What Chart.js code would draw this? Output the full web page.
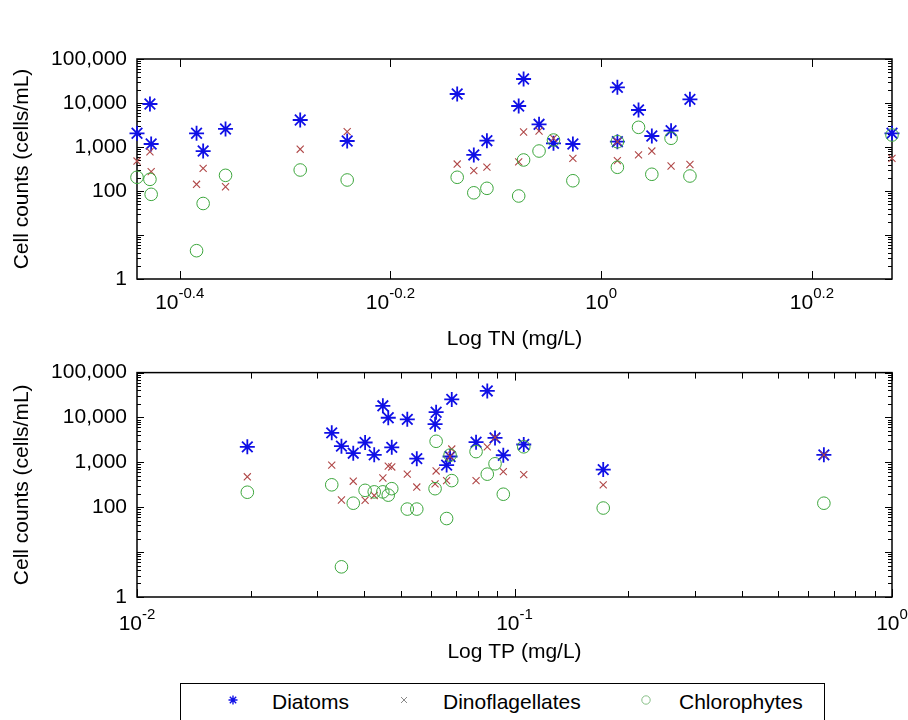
<!DOCTYPE html>
<html><head><meta charset="utf-8">
<script src="https://cdn.jsdelivr.net/npm/chart.js@4.4.1/dist/chart.umd.min.js"></script>
<style>
html,body{margin:0;padding:0;background:#fff}
body{width:908px;height:720px;position:relative;overflow:hidden;font-family:"Liberation Sans",Arial,sans-serif}
canvas{position:absolute;left:0}
#c1{top:0}
#c2{top:350px}
#legend{position:absolute;left:180px;top:683px;width:645px;height:52px;border:1.5px solid #000;box-sizing:border-box;background:#fff}
.lt{position:absolute;top:6px;font-size:21px;line-height:24px;color:#000;white-space:nowrap}
.lm{position:absolute;top:9px}
</style></head>
<body>
<canvas id="c1" width="908" height="356"></canvas>
<canvas id="c2" width="908" height="370"></canvas>
<div id="legend"></div>
<script>
// ---- data ----
const seriesNames = ['Diatoms', 'Dinoflagellates', 'Chlorophytes'];

// Top panel: total nitrogen (mg/L)
const tnValues = [0.3626, 0.373, 0.374, 0.413, 0.419, 0.440, 0.518, 0.574, 0.730, 0.757, 0.779, 0.835, 0.844, 0.873, 0.901, 0.940, 1.036, 1.036, 1.085, 1.117, 1.165, 1.214, 1.888];
const tnDiatoms = [2050, 9500, 1170, 2050, 810, 2570, 4110, 1370, 16000, 660, 1390, 8550, 35100, 3280, 1210, 1170, 22700, 1320, 6930, 1780, 2350, 12100, 2050];
const tnDinos = [480, 780, 275, 142, 328, 125, 890, 2230, 410, 290, 350, 460, 2190, 2310, 1580, 550, 490, 1320, 660, 810, 370, 400, 550];
const tnChloro = [205, 184, 84, 4.4, 52, 227, 300, 178, 205, 91, 115, 77, 507, 810, 1440, 171, 346, 1320, 2800, 240, 1580, 219, 1870];

// Bottom panel: total phosphorus (mg/L)
const tpValues = [0.0196, 0.0328, 0.0348, 0.0374, 0.0402, 0.0425, 0.0448, 0.0463, 0.0473, 0.0520, 0.0551, 0.0616, 0.0620, 0.0661, 0.0675, 0.0682, 0.0791, 0.0847, 0.0888, 0.0934, 0.1058, 0.1718, 0.660];
const tpDiatoms = [2220, 4540, 2300, 1600, 2770, 1470, 18200, 9860, 2160, 9100, 1210, 7100, 13100, 870, 1350, 25300, 2810, 39000, 3510, 1440, 2500, 690, 1470];
const tpDinos = [477, 866, 145, 380, 143, 183, 448, 824, 790, 546, 282, 332, 643, 392, 1350, 1980, 392, 2220, 3600, 624, 532, 316, 1470];
const tpChloro = [216, 316, 4.7, 123, 238, 220, 220, 186, 259, 91, 91, 259, 2950, 56, 1450, 392, 1735, 546, 929, 195, 2220, 96, 123];

// Axes / ticks
const yTickValues = [1, 10, 100, 1000, 10000, 100000];
const yTickLabels = ['1', '', '100', '1,000', '10,000', '100,000'];
const yMinorMults = [2, 3, 4, 5, 6, 7, 8, 9];
const tnTickValues = [0.398107, 0.630957, 1, 1.584893];
const tnTickExps = ['-0.4', '-0.2', '0', '0.2'];
const tpTickValues = [0.01, 0.1, 1];
const tpTickExps = ['-2', '-1', '0'];
const tpMinorTicks = [0.02, 0.03, 0.04, 0.05, 0.06, 0.07, 0.08, 0.09, 0.2, 0.3, 0.4, 0.5, 0.6, 0.7, 0.8, 0.9];

// ---- styling ----
const FAM = '"Liberation Sans", Arial, Helvetica, sans-serif';
const COLORS = ['#1010e6', '#b04848', '#3ca63c'];

const frame = {
  id: 'frame',
  beforeDatasetsDraw(chart, args, o) {
    const {ctx, chartArea: a, scales: {x, y}} = chart;
    ctx.save();
    ctx.strokeStyle = '#000';
    ctx.lineWidth = 1;
    const seg = (x1, y1, x2, y2) => { ctx.beginPath(); ctx.moveTo(x1, y1); ctx.lineTo(x2, y2); ctx.stroke(); };
    yTickValues.forEach(d => {
      const py = Math.round(y.getPixelForValue(d)) + 0.5;
      seg(a.left, py, a.left + 7, py); seg(a.right, py, a.right - 7, py);
      if (d < 100000) yMinorMults.forEach(m => {
        const q = Math.round(y.getPixelForValue(d * m)) + 0.5;
        seg(a.left, q, a.left + 4, q); seg(a.right, q, a.right - 4, q);
      });
    });
    o.major.forEach(v => {
      const px = Math.round(x.getPixelForValue(v)) + 0.5;
      seg(px, a.bottom, px, a.bottom - 8); seg(px, a.top, px, a.top + 8);
    });
    (o.minor || []).forEach(v => {
      const px = Math.round(x.getPixelForValue(v)) + 0.5;
      seg(px, a.bottom, px, a.bottom - 6); seg(px, a.top, px, a.top + 6);
    });
    ctx.lineWidth = 1.5;
    ctx.strokeRect(a.left, a.top, a.right - a.left, a.bottom - a.top);
    // x tick labels as 10^e
    ctx.fillStyle = '#000';
    ctx.textBaseline = 'middle';
    ctx.textAlign = 'left';
    const big = '21px ' + FAM, small = '15px ' + FAM;
    o.major.forEach((v, i) => {
      const px = x.getPixelForValue(v);
      ctx.font = big; const w1 = ctx.measureText('10').width;
      ctx.font = small; const w2 = ctx.measureText(o.exps[i]).width;
      const sx = px - (w1 + w2) / 2;
      const cy = a.bottom + o.labelOffset;
      ctx.font = big; ctx.fillText('10', sx, cy);
      ctx.font = small; ctx.fillText(o.exps[i], sx + w1, cy - 9);
    });
    ctx.restore();
  }
};

function makeChart(id, xs, series, xmin, xmax, xTitle, pad, xh, fopts) {
  const styles = ['star', 'crossRot', 'circle'];
  const radii = [7.5, 5, 6.3];
  const widths = [1.8, 1.1, 1];
  const orders = [3, 2, 1];
  return new Chart(document.getElementById(id), {
    type: 'scatter',
    data: {
      datasets: series.map((vals, k) => ({
        label: seriesNames[k],
        data: xs.map((xv, i) => ({x: xv, y: vals[i]})),
        pointStyle: styles[k],
        pointRadius: radii[k],
        pointBorderColor: COLORS[k],
        pointBackgroundColor: 'rgba(0,0,0,0)',
        pointBorderWidth: widths[k],
        borderColor: COLORS[k],
        backgroundColor: 'rgba(0,0,0,0)',
        order: orders[k],
        clip: false
      }))
    },
    options: {
      responsive: false,
      animation: false,
      events: [],
      layout: {padding: pad},
      plugins: {legend: {display: false}, tooltip: {enabled: false}, frame: fopts},
      scales: {
        x: {
          type: 'logarithmic', min: xmin, max: xmax,
          grid: {display: false, drawTicks: false}, border: {display: false},
          ticks: {display: false},
          afterFit: s => { s.height = xh; },
          title: {display: true, text: xTitle, color: '#000', font: {family: FAM, size: 21}, padding: 0}
        },
        y: {
          type: 'logarithmic', min: 1, max: 100000,
          grid: {display: false, drawTicks: false}, border: {display: false},
          afterBuildTicks: s => { s.ticks = yTickValues.map(v => ({value: v})); },
          ticks: {color: '#000', font: {family: FAM, size: 21}, padding: 10, autoSkip: false,
                  callback: (v, i) => yTickLabels[i]},
          afterFit: s => { s.width = 137; },
          title: {display: true, text: 'Cell counts (cells/mL)', color: '#000', font: {family: FAM, size: 21}, padding: {top: 10, bottom: 0}}
        }
      }
    },
    plugins: [frame]
  });
}

makeChart('c1', tnValues, [tnDiatoms, tnDinos, tnChloro], 0.3626, 1.888, 'Log TN (mg/L)',
  {left: 0, top: 59, right: 16, bottom: 4}, 73,
  {major: tnTickValues, exps: tnTickExps, labelOffset: 24});
makeChart('c2', tpValues, [tpDiatoms, tpDinos, tpChloro], 0.01, 1, 'Log TP (mg/L)',
  {left: 0, top: 15, right: 16, bottom: 55}, 68,
  {major: tpTickValues, minor: tpMinorTicks, exps: tpTickExps, labelOffset: 27});

// ---- legend ----
const lg = document.getElementById('legend');
const markerSvgs = [
  '<svg width="14" height="14" viewBox="0 0 14 14"><path d="M7 2.5V11.5M2.5 7H11.5M3.8 3.8L10.2 10.2M10.2 3.8L3.8 10.2" stroke="#1010e6" stroke-width="1.4" fill="none"/></svg>',
  '<svg width="14" height="14" viewBox="0 0 14 14"><path d="M4 4L10 10M10 4L4 10" stroke="#8a8a8a" stroke-width="1" fill="none"/></svg>',
  '<svg width="14" height="14" viewBox="0 0 14 14"><circle cx="7" cy="7" r="4.2" stroke="#88c088" stroke-width="1" fill="none"/></svg>'
];
const markerX = [45, 216, 458];
const textX = [91, 262, 498];
seriesNames.forEach((name, k) => {
  const m = document.createElement('div');
  m.className = 'lm'; m.style.left = markerX[k] + 'px'; m.innerHTML = markerSvgs[k];
  lg.appendChild(m);
  const t = document.createElement('div');
  t.className = 'lt'; t.style.left = textX[k] + 'px'; t.textContent = name;
  lg.appendChild(t);
});
</script>
</body></html>
